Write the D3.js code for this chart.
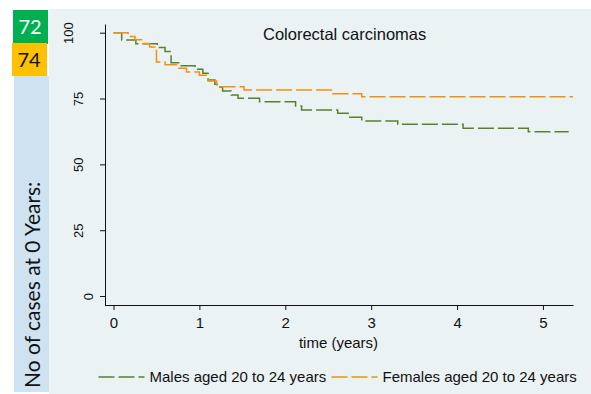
<!DOCTYPE html>
<html>
<head>
<meta charset="utf-8">
<script src="https://cdn.jsdelivr.net/npm/d3@7"></script>
<style>
  body { margin: 0; background: #ffffff; }
  svg text { font-family: "Liberation Sans", Arial, sans-serif; }
</style>
</head>
<body>
<div id="chart"></div>
<script>
// survival data (time in years, % surviving)
var maleTime = [0, 0.095, 0.26, 0.51, 0.60, 0.67, 0.77, 0.95, 1.04, 1.10, 1.18, 1.24, 1.27, 1.37, 1.45, 1.70, 2.12, 2.19, 2.61, 2.73, 2.89, 3.31, 4.07, 4.83, 5.30];
var maleSurv = [100, 97.2, 95.8, 94.4, 92.9, 88.6, 87.4, 86.1, 84.6, 82.0, 80.4, 79.3, 77.9, 76.3, 75.1, 73.8, 72.2, 70.6, 69.4, 67.9, 66.5, 65.2, 63.7, 62.4, 62.4];

var femaleTime = [0, 0.17, 0.25, 0.34, 0.42, 0.48, 0.50, 0.60, 0.76, 0.85, 1.00, 1.10, 1.20, 1.52, 2.55, 2.89, 5.35];
var femaleSurv = [100, 98.6, 97.3, 95.9, 94.6, 93.2, 88.9, 87.8, 86.5, 85.1, 83.8, 81.7, 79.5, 78.2, 76.8, 75.7, 75.7];

var seriesNames = ["Males aged 20 to 24 years", "Females aged 20 to 24 years"];
var seriesColors = ["#5a802e", "#f0920f"];
var casesAtZero = [72, 74];

var xTicks = [0, 1, 2, 3, 4, 5];
var yTicks = [0, 25, 50, 75, 100];

var svgWidth = 591;
var svgHeight = 394;

var svg = d3.select("#chart")
    .append("svg")
    .attr("width", svgWidth)
    .attr("height", svgHeight);

// chart background
svg.append("rect")
    .attr("x", 49).attr("y", 9)
    .attr("width", svgWidth - 49).attr("height", svgHeight - 9)
    .attr("fill", "#eaf2f4");

// left strip with case counts
svg.append("rect")
    .attr("x", 13).attr("y", 10).attr("width", 35).attr("height", 34)
    .attr("fill", "#00b050");
svg.append("rect")
    .attr("x", 12).attr("y", 43).attr("width", 35).attr("height", 33)
    .attr("fill", "#ffc000");
svg.append("rect")
    .attr("x", 14).attr("y", 76).attr("width", 35).attr("height", 316)
    .attr("fill", "#cfe2f1");

svg.append("text")
    .attr("x", 30).attr("y", 34)
    .attr("text-anchor", "middle")
    .style("font-family", "Lato, 'Open Sans', sans-serif")
    .attr("font-size", "20px")
    .attr("fill", "#ffffff")
    .text(casesAtZero[0]);
svg.append("text")
    .attr("x", 29).attr("y", 67)
    .attr("text-anchor", "middle")
    .style("font-family", "Lato, 'Open Sans', sans-serif")
    .attr("font-size", "20px")
    .attr("fill", "#111111")
    .text(casesAtZero[1]);
svg.append("text")
    .attr("transform", "translate(40, 388) rotate(-90)")
    .style("font-family", "Lato, 'Open Sans', sans-serif")
    .attr("font-size", "21px")
    .attr("fill", "#111111")
    .text("No of cases at 0 Years:");

var xScale = d3.scaleLinear()
    .domain([-0.105, 5.35])
    .range([104.5, 573]);

var yScale = d3.scaleLinear()
    .domain([-3.4, 103.3])
    .range([305, 24]);

var xAxis = d3.axisBottom(xScale).tickValues(xTicks).tickSize(5).tickSizeOuter(0).tickFormat(d3.format("d"));
var yAxis = d3.axisLeft(yScale).tickValues(yTicks).tickSize(5).tickSizeOuter(0).tickFormat(d3.format("d"));

var gx = svg.append("g")
    .attr("transform", "translate(0, 305)")
    .call(xAxis);
gx.selectAll("text")
    .attr("y", 23).attr("dy", null)
    .attr("font-size", "15px")
    .attr("fill", "#111");

var gy = svg.append("g")
    .attr("transform", "translate(105, 0)")
    .call(yAxis);
// rotated labels, shifted left by string length like the original
gy.selectAll(".tick text")
    .attr("x", null).attr("dy", null)
    .attr("transform", d => "translate(" + (-2 - 10 * String(d).length) + ", 0) rotate(-90)")
    .attr("text-anchor", "middle")
    .attr("font-size", "13px")
    .attr("fill", "#111");

svg.selectAll(".domain, .tick line").attr("stroke", "#111");

// title and axis label
svg.append("text")
    .attr("x", 263).attr("y", 40)
    .attr("font-size", "16.5px")
    .attr("fill", "#111")
    .text("Colorectal carcinomas");

svg.append("text")
    .attr("x", 338.5).attr("y", 348)
    .attr("text-anchor", "middle")
    .attr("font-size", "15px")
    .attr("fill", "#111")
    .text("time (years)");

// survival step curves
var line = d3.line()
    .x(d => xScale(d[0]))
    .y(d => yScale(d[1]))
    .curve(d3.curveStepAfter);

var series = [
    d3.zip(maleTime, maleSurv),
    d3.zip(femaleTime, femaleSurv)
];

svg.selectAll(".km")
    .data(series)
    .enter()
    .append("path")
    .attr("class", "km")
    .attr("d", line)
    .attr("fill", "none")
    .attr("stroke", (d, i) => seriesColors[i])
    .attr("stroke-width", 1.5)
    .attr("stroke-dasharray", "16,4");

// legend
var legendX = [98.5, 331.5];
var legend = svg.selectAll(".legend")
    .data(seriesNames)
    .enter()
    .append("g")
    .attr("class", "legend")
    .attr("transform", (d, i) => "translate(" + legendX[i] + ", 377)");

legend.append("line")
    .attr("x1", 0).attr("x2", 46)
    .attr("stroke", (d, i) => seriesColors[i])
    .attr("stroke-width", 1.5)
    .attr("stroke-dasharray", "16,4");

legend.append("text")
    .attr("x", 51).attr("y", 5)
    .attr("font-size", "15px")
    .attr("fill", "#111")
    .text(d => d);
</script>
</body>
</html>
